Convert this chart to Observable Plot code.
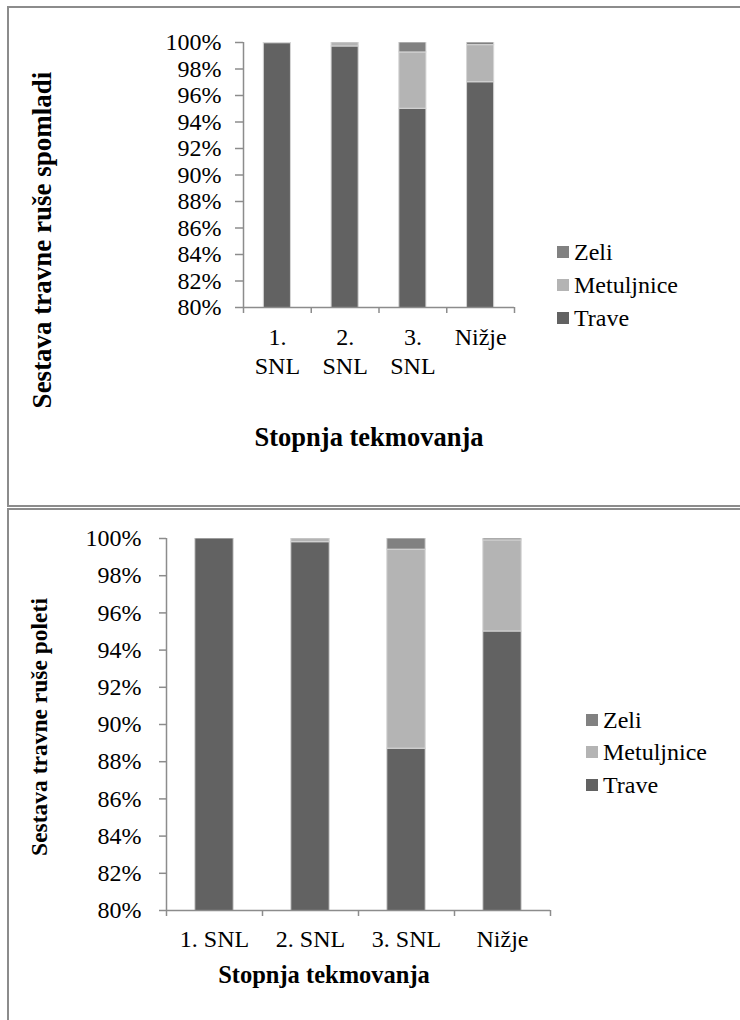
<!DOCTYPE html>
<html><head><meta charset="utf-8">
<script src="https://cdn.jsdelivr.net/npm/d3@7"></script>
<script src="https://cdn.jsdelivr.net/npm/@observablehq/plot@0.6"></script>
<style>
html,body{margin:0;padding:0;background:#fff;}
#page{position:relative;width:740px;height:1020px;overflow:hidden;color:#000;font-family:"Liberation Serif";}
.ser{font-family:"Liberation Serif";}
.frame{position:absolute;border:2px solid #8c8c8c;box-sizing:border-box;}
.abs{position:absolute;white-space:nowrap;line-height:1;}
.title{font-weight:bold;font-size:24px;transform:translate(-50%,-50%);}
.ylab{font-weight:bold;font-size:24px;transform:translate(-50%,-50%) rotate(-90deg);}
.leg{font-size:24px;transform:translateY(-50%);display:flex;align-items:center;}
.leg i{display:inline-block;width:12px;height:12px;margin-right:5px;}
.chart{position:absolute;left:0;}
</style>
</head><body>
<div id="page">
  <div class="frame" style="left:7px;top:6px;width:760px;height:501px;"></div>
  <div class="frame" style="left:7px;top:508px;width:760px;height:540px;"></div>
</div>
<script>
// ---- data ----
const categories = ["1. SNL", "2. SNL", "3. SNL", "Nižje"];
const springLabels = ["1.\nSNL", "2.\nSNL", "3.\nSNL", "Nižje"];
const summerLabels = ["1. SNL", "2. SNL", "3. SNL", "Nižje"];
const series = ["Trave", "Metuljnice", "Zeli"];
const legendOrder = ["Zeli", "Metuljnice", "Trave"];
const seriesColors = ["#626262", "#b4b4b4", "#818181"];
const yTicks = [80, 82, 84, 86, 88, 90, 92, 94, 96, 98, 100];

const springTrave = [99.95, 99.7, 95.0, 97.0];
const springMetuljnice = [0.05, 0.3, 4.25, 2.8];
const springZeli = [0, 0, 0.75, 0.2];

const summerTrave = [100, 99.8, 88.7, 95.0];
const summerMetuljnice = [0, 0.2, 10.7, 4.9];
const summerZeli = [0, 0, 0.6, 0.1];

const yTitleSpring = "Sestava travne ruše spomladi";
const yTitleSummer = "Sestava travne ruše poleti";
const xTitle = "Stopnja tekmovanja";

const FONT = "Liberation Serif";

function rowsOf(trave, metuljnice, zeli) {
  const cols = [trave, metuljnice, zeli];
  const rows = [];
  categories.forEach((c, i) => {
    series.forEach((s, k) => rows.push({i, category: c, series: s, value: cols[k][i]}));
  });
  return rows.filter(d => d.value > 0);
}

function chart(rows, labels, o) {
  return Plot.plot({
    width: o.width, height: o.height,
    marginTop: o.mt, marginBottom: o.mb, marginLeft: o.ml, marginRight: o.mr,
    style: {fontFamily: FONT, fontSize: "24px", color: "#000", background: "none", overflow: "visible"},
    x: {type: "linear", domain: [0, categories.length], axis: null},
    y: {domain: [80, 100], axis: null},
    color: {domain: series, range: seriesColors},
    marks: [
      Plot.rectY(rows, Plot.stackY({
        x1: d => d.i + 0.3, x2: d => d.i + 0.7, y: "value",
        fill: "series", stroke: "#d6d6d6", strokeWidth: 1, clip: true
      })),
      Plot.ruleX([0], {stroke: "#8c8c8c", strokeWidth: 1.5}),
      Plot.ruleY([80], {stroke: "#8c8c8c", strokeWidth: 1.5}),
      Plot.axisY({ticks: yTicks, tickFormat: d => d + "%", tickSize: o.ytick, tickPadding: o.ypad,
        stroke: "#8c8c8c", fill: "#000", strokeWidth: 1.5, label: null, fontFamily: FONT}),
      Plot.axisX({ticks: d3.range(categories.length + 1), tickFormat: () => "", tickSize: 6,
        stroke: "#8c8c8c", strokeWidth: 1.5, label: null}),
      Plot.text(labels, {x: (d, i) => i + 0.5, y: 80, dy: o.labelDy, lineAnchor: "top",
        lineHeight: o.lineHeight, text: d => d, fontSize: 24, fill: "#000", fontFamily: FONT})
    ]
  });
}

const page = document.getElementById("page");

const top1 = chart(rowsOf(springTrave, springMetuljnice, springZeli), springLabels,
  {width: 740, height: 506, mt: 42, mb: 199, ml: 243, mr: 226, ytick: 8, ypad: 14, labelDy: 18, lineHeight: 1.17});
top1.classList.add("chart"); top1.style.top = "0px";
page.appendChild(top1);

const bot = chart(rowsOf(summerTrave, summerMetuljnice, summerZeli), summerLabels,
  {width: 740, height: 511, mt: 29, mb: 110, ml: 166, mr: 190, ytick: 7, ypad: 18, labelDy: 17, lineHeight: 1.17});
bot.classList.add("chart"); bot.style.top = "509px";
page.appendChild(bot);

function addText(cls, text, x, y, size) {
  const d = document.createElement("div");
  d.className = "abs ser " + cls;
  d.textContent = text;
  d.style.left = x + "px"; d.style.top = y + "px";
  if (size) d.style.fontSize = size + "px";
  page.appendChild(d);
  return d;
}
addText("ylab", yTitleSpring, 42, 240, 27);
addText("title", xTitle, 369, 437, 26.5);
addText("ylab", yTitleSummer, 40, 727, 23.5);
addText("title", xTitle, 324, 975, 24.5);

function legend(x, ys) {
  legendOrder.forEach((s, k) => {
    const d = document.createElement("div");
    d.className = "abs ser leg";
    d.style.left = x + "px"; d.style.top = ys[k] + "px";
    const sw = document.createElement("i");
    sw.style.background = seriesColors[series.indexOf(s)];
    d.appendChild(sw);
    d.appendChild(document.createTextNode(s));
    page.appendChild(d);
  });
}
legend(557, [252, 285, 318]);
legend(586, [720, 752, 785]);

document.querySelectorAll("#page svg text, #page svg g").forEach(t => t.style.fontFamily = FONT);
</script>
</body></html>
